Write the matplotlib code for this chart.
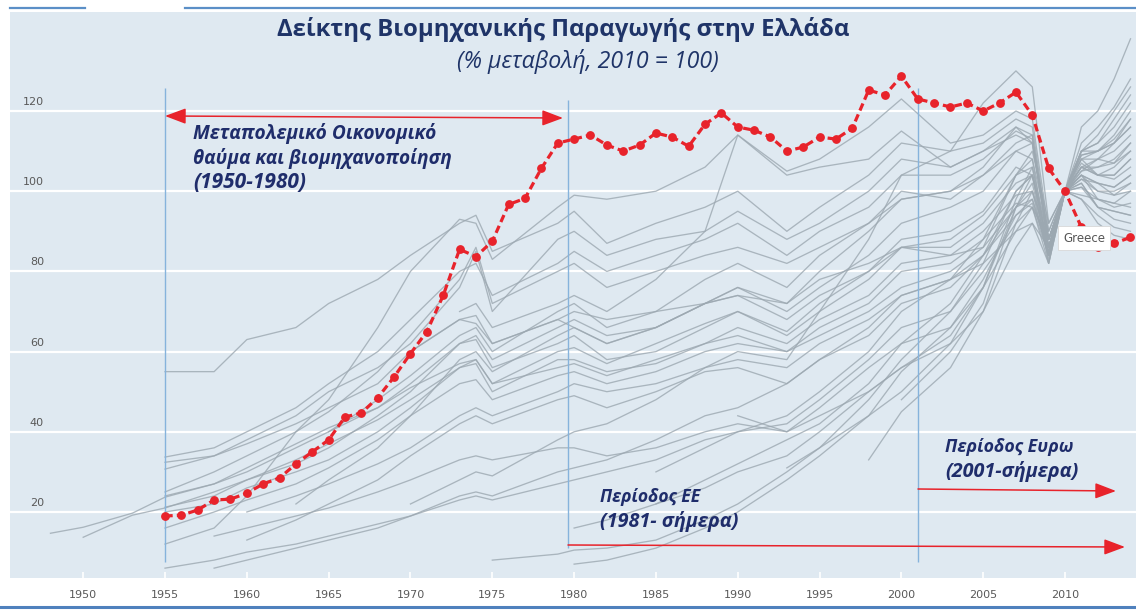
import numpy as np
import matplotlib
matplotlib.use("Agg")
import matplotlib.pyplot as plt
from matplotlib.lines import Line2D

# ---------------- data ----------------
years_greece = list(range(1955, 2015))
greece = [19.0, 19.2, 20.5, 23.0, 23.2, 24.7, 27.0, 28.5, 32.0, 35.0,
          38.0, 43.7, 44.7, 48.5, 53.7, 59.5, 65.0, 74.0, 85.5, 83.7,
          87.5, 96.7, 98.2, 105.7, 112.0, 113.0, 114.0, 111.5, 110.0, 111.5,
          114.5, 113.5, 111.2, 116.7, 119.5, 116.0, 115.2, 113.5, 110.0, 111.0,
          113.5, 113.0, 115.7, 125.2, 124.0, 128.7, 123.0, 122.0, 121.0, 122.0,
          120.0, 122.0, 124.7, 119.0, 105.7, 100.0, 91.0, 86.0, 87.0, 88.5]

# years at which the other countries' indices are read
years_other = [1948, 1950, 1953, 1955, 1958, 1960, 1963, 1965, 1968, 1970,
               1973, 1974, 1975, 1979, 1980, 1982, 1985, 1988, 1990, 1993,
               1995, 1998, 2000, 2003, 2005, 2007, 2008, 2009, 2010, 2011,
               2012, 2013, 2014]
N = None
other_countries = [
    [14.7, 16.2, 19.7, 23.7, 27, 31, 37, 41, 46, 51, 57, 58, 52, 60, 61, 57, 62, 67, 70, 65, 72, 80, 88, 90, 95, 106, 104, 85, 100, 104, 102, 101, 104],
    [N, 13.7, 19.2, 21, 25, 28, 33, 37, 43, 48, 56, 57, 50, 58, 58, 55, 57, 62, 64, 60, 66, 72, 80, 82, 88, 97, 96, 82, 100, 101, 98, 96, 97],
    [N, N, N, 55, 55, 63, 66, 72, 78, 84, 92, 94, 85, 92, 95, 87, 92, 96, 100, 90, 96, 104, 112, 110, 112, 118, 116, 88, 100, 108, 104, 103, 106],
    [N, N, N, 33.7, 36, 40, 46, 52, 60, 68, 80, 82, 74, 82, 85, 80, 84, 88, 92, 84, 90, 96, 104, 104, 108, 115, 113, 86, 100, 109, 110, 112, 118],
    [N, N, N, 32.4, 34, 37, 42, 46, 52, 60, 68, 69, 62, 68, 70, 68, 70, 72, 74, 68, 74, 80, 86, 88, 94, 104, 106, 84, 100, 106, 108, 107, 112],
    [N, N, N, 30.7, 34, 38, 44, 50, 56, 62, 76, 85, 70, 88, 90, 84, 88, 90, 95, 88, 92, 100, 108, 106, 110, 116, 112, 86, 100, 102, 96, 95, 94],
    [N, N, N, 21.2, 24, 28, 32, 36, 44, 50, 62, 63, 56, 62, 64, 58, 60, 66, 70, 64, 70, 78, 86, 86, 92, 102, 104, 86, 100, 103, 100, 99, 102],
    [N, N, N, 20, 22, 26, 30, 33, 40, 46, 56, 58, 52, 56, 57, 54, 58, 62, 66, 62, 68, 74, 82, 84, 90, 99, 100, 83, 100, 107, 104, 104, 108],
    [N, N, N, 16, 20, 23, 27, 31, 38, 44, 52, 53, 48, 54, 55, 52, 55, 60, 62, 60, 64, 70, 76, 80, 86, 96, 98, 84, 100, 105, 106, 107, 110],
    [N, N, N, 6, 8, 10, 12, 14, 17, 19, 23, 24, 23, 27, 28, 30, 33, 38, 40, 42, 48, 58, 66, 70, 80, 92, 96, 84, 100, 110, 112, 116, 122],
    [N, N, N, 12, 16, 24, 40, 48, 66, 80, 93, 92, 83, 96, 99, 98, 100, 106, 114, 104, 106, 108, 115, 106, 110, 114, 112, 88, 100, 99, 98, 97, 100],
    [N, N, N, 24, 27, 30, 36, 40, 48, 54, 64, 66, 60, 70, 72, 66, 70, 78, 82, 76, 84, 92, 100, 98, 104, 112, 114, 88, 100, 101, 96, 93, 92],
    [N, N, N, 25, 30, 34, 40, 45, 55, 64, 78, 86, 72, 80, 82, 76, 80, 84, 86, 82, 86, 92, 98, 100, 104, 110, 108, 84, 100, 98, 92, 89, 88],
    [N, N, N, N, 14, 16, 19, 21, 25, 28, 33, 34, 33, 36, 36, 34, 36, 40, 42, 40, 44, 50, 56, 62, 70, 86, 92, 86, 100, 112, 116, 121, 128],
    [N, N, N, N, 6, 8, 11, 13, 16, 19, 24, 25, 24, 30, 31, 33, 38, 44, 46, 52, 58, 66, 74, 78, 84, 96, 100, 88, 100, 105, 108, 110, 114],
    [N, N, N, N, N, 13, 18, 22, 28, 34, 42, 44, 42, 48, 49, 46, 50, 55, 56, 52, 58, 64, 72, 76, 84, 94, 97, 85, 100, 103, 102, 99, 100],
    [N, N, N, N, N, 20, 24, 27, 32, 36, 44, 46, 44, 50, 52, 50, 52, 56, 58, 56, 62, 68, 74, 78, 82, 90, 92, 82, 100, 104, 102, 101, 104],
    [N, N, N, N, N, N, 22, 28, 36, 44, 58, 60, 55, 64, 66, 62, 66, 72, 76, 70, 76, 84, 92, 96, 100, 110, 112, 88, 100, 98, 94, 91, 90],
    [N, N, N, N, N, N, N, 40, 46, 52, 62, 64, 58, 66, 68, 64, 66, 72, 76, 72, 80, 90, 98, 100, 106, 116, 114, 86, 100, 104, 98, 97, 96],
    [N, N, N, N, N, N, N, N, N, 22, 28, 30, 29, 38, 40, 42, 48, 56, 60, 58, 70, 88, 104, 110, 122, 130, 126, 92, 100, 109, 110, 113, 118],
    [N, N, N, N, N, N, N, N, N, 60, 68, 67, 62, 68, 66, 62, 66, 72, 74, 72, 78, 82, 86, 84, 86, 104, 110, 92, 100, 104, 100, 100, 102],
    [N, N, N, N, N, N, N, N, N, N, 70, 72, 66, 72, 74, 70, 78, 90, 114, 105, 108, 116, 123, 112, 114, 120, 118, 90, 100, 106, 104, 104, 108],
    [N, N, N, N, N, N, N, N, N, N, N, N, 8, 9.5, 10.5, 11, 13, 18, 22, 30, 36, 48, 58, 70, 82, 100, 104, 88, 100, 116, 120, 128, 138],
    [N, N, N, N, N, N, N, N, N, N, N, N, N, N, 7, 8, 11, 16, 20, 28, 34, 44, 55, 66, 78, 94, 98, 86, 100, 110, 112, 118, 124],
    [N, N, N, N, N, N, N, N, N, N, N, N, N, N, 16, 18, 22, 28, 32, 38, 42, 52, 62, 66, 76, 90, 96, 88, 100, 108, 110, 114, 120],
    [N, N, N, N, N, N, N, N, N, N, N, N, N, N, N, N, 30, 36, 40, 44, 50, 60, 70, 78, 88, 104, 108, 90, 100, 106, 106, 108, 112],
    [N, N, N, N, N, N, N, N, N, N, N, N, N, N, N, N, 22, 26, 30, 34, 40, 50, 56, 64, 76, 96, 102, 84, 100, 102, 96, 95, 94],
    [N, N, N, N, N, N, N, N, N, N, N, N, N, N, N, N, N, N, 44, 40, 46, 56, 62, 72, 84, 100, 104, 86, 100, 110, 110, 112, 116],
    [N, N, N, N, N, N, N, N, N, N, N, N, N, N, N, N, N, N, N, 31, 36, 44, 50, 62, 76, 98, 106, 88, 100, 110, 114, 120, 126],
    [N, N, N, N, N, N, N, N, N, N, N, N, N, N, N, N, N, N, N, N, N, 33, 45, 56, 70, 92, 100, 86, 100, 108, 108, 112, 116],
    [N, N, N, N, N, N, N, N, N, N, N, N, N, N, N, N, N, N, N, N, N, N, 48, 60, 72, 96, 104, 82, 100, 106, 104, 106, 110],
]

y_ticks = [20, 40, 60, 80, 100, 120]
x_ticks = list(range(1950, 2015, 5))
period_starts = [1955, 1979.6, 2001]

title = "Δείκτης Βιομηχανικής Παραγωγής στην Ελλάδα"
subtitle = "(% μεταβολή, 2010 = 100)"

# ---------------- figure ----------------
W, H = 1136, 616
fig = plt.figure(figsize=(W / 100, H / 100), dpi=100)
fig.patch.set_facecolor("white")

def fx(x):
    return x / W

def fy(y):
    return 1 - y / H

ax = fig.add_axes([fx(10), fy(578), 1 - fx(10), (578 - 12) / H])
ax.set_facecolor("#dfe9f1")
px_per_year = 16.364
x0_px = 83.2
px_per_unit = 4.01
y0_px = 592.2
ax.set_xlim(1950 + (10 - x0_px) / px_per_year, 1950 + (1136 - x0_px) / px_per_year)
ax.set_ylim((y0_px - 578) / px_per_unit, (y0_px - 12) / px_per_unit)
for s in ax.spines.values():
    s.set_visible(False)

ax.set_yticks(y_ticks)
ax.yaxis.grid(True, color="white", lw=1.6)
ax.set_axisbelow(True)
ax.tick_params(axis="y", length=0, labelleft=False)
for v in y_ticks:
    ax.annotate(str(v), xy=(0, v), xycoords=("axes fraction", "data"),
                xytext=(34 * 0.72, 9 * 0.72), textcoords="offset points",
                ha="right", va="center", fontsize=8, color="#595959")

ax.set_xticks(x_ticks)
ax.tick_params(axis="x", direction="in", length=4.5, width=1.2, color="white",
               pad=9, labelsize=8, labelcolor="#595959")

# other countries
yo = np.array(years_other, dtype=float)
for series in other_countries:
    vals = np.array([np.nan if v is None else v for v in series], dtype=float)
    m = ~np.isnan(vals)
    ax.plot(yo[m], vals[m], color="#9ca8b1", lw=0.95, alpha=0.8, zorder=2)

# period lines
vl_color = "#86b3dc"
ax.vlines(period_starts[0], 7.5, 125.7, color=vl_color, lw=1.0, zorder=3)
ax.vlines(period_starts[1], 11.0, 122.7, color=vl_color, lw=1.0, zorder=3)
ax.vlines(period_starts[2], 7.5, 125.7, color=vl_color, lw=1.0, zorder=3)

# Greece
red = "#e8232b"
ax.plot(years_greece, greece, color=red, lw=2.3, ls=(0, (2.4, 1.3)),
        marker="o", ms=5.3, mfc=red, mec=red, zorder=6)

# arrows
def px2data(x, y):
    return (1950 + (x - x0_px) / px_per_year, (y0_px - y) / px_per_unit)

arrow_kw = dict(color=red, lw=1.1, shrinkA=0, shrinkB=0, mutation_scale=16)
ax.annotate("", xy=px2data(563, 118), xytext=px2data(165, 116),
            arrowprops=dict(arrowstyle="<|-|>,head_length=0.8,head_width=0.3", **arrow_kw), zorder=7)
ax.annotate("", xy=px2data(1125, 547), xytext=px2data(568, 545),
            arrowprops=dict(arrowstyle="-|>,head_length=0.8,head_width=0.3", **arrow_kw), zorder=7)
ax.annotate("", xy=px2data(1116, 491), xytext=px2data(918, 489),
            arrowprops=dict(arrowstyle="-|>,head_length=0.8,head_width=0.3", **arrow_kw), zorder=7)

# ---------------- texts ----------------
renderer = fig.canvas.get_renderer()
navy = "#1f2d6b"

def fit_text(s, x_px, y_px, width_px, ha="left", **kw):
    t = fig.text(fx(x_px), fy(y_px), s, ha=ha, va="center", fontsize=12, **kw)
    w = t.get_window_extent(renderer).width
    t.set_fontsize(12 * width_px / w)
    return t

fam = ["Open Sans", "DejaVu Sans"]
fit_text(title, 563, 30, 570, ha="center", family=fam, weight="bold", color="#1f3468")
fit_text(subtitle, 588, 61, 261, ha="center", family=fam, style="italic", color="#1f3468")

ann = dict(family=fam, weight="bold", style="italic", color=navy)
fit_text("Μεταπολεμικό Οικονομικό", 193, 133, 242, **ann)
fit_text("θαύμα και βιομηχανοποίηση", 193, 158, 259, **ann)
fit_text("(1950-1980)", 193, 183, 112, **ann)

fit_text("Περίοδος ΕΕ", 600, 497, 100, **ann)
fit_text("(1981- σήμερα)", 600, 522, 138, **ann)

fit_text("Περίοδος Ευρω", 945, 447, 128, **ann)
fit_text("(2001-σήμερα)", 945, 472, 133, **ann)

fig.text(fx(1084), fy(238), "Greece", ha="center", va="center", fontsize=8.5,
         color="#555555", zorder=10,
         bbox=dict(boxstyle="square,pad=0.45", fc="white", ec="#d8d8d8", lw=0.6))

# frame lines
fig.add_artist(Line2D([0, 1], [fy(607), fy(607)], color="#4f81bd", lw=2.2,
                      transform=fig.transFigure))
fig.add_artist(Line2D([fx(10), fx(85)], [fy(8), fy(8)], color="#5b8fc7", lw=1.6,
                      transform=fig.transFigure))
fig.add_artist(Line2D([fx(185), 1], [fy(8), fy(8)], color="#5b8fc7", lw=1.6,
                      transform=fig.transFigure))

fig.savefig("out.png", dpi=100, facecolor="white")
